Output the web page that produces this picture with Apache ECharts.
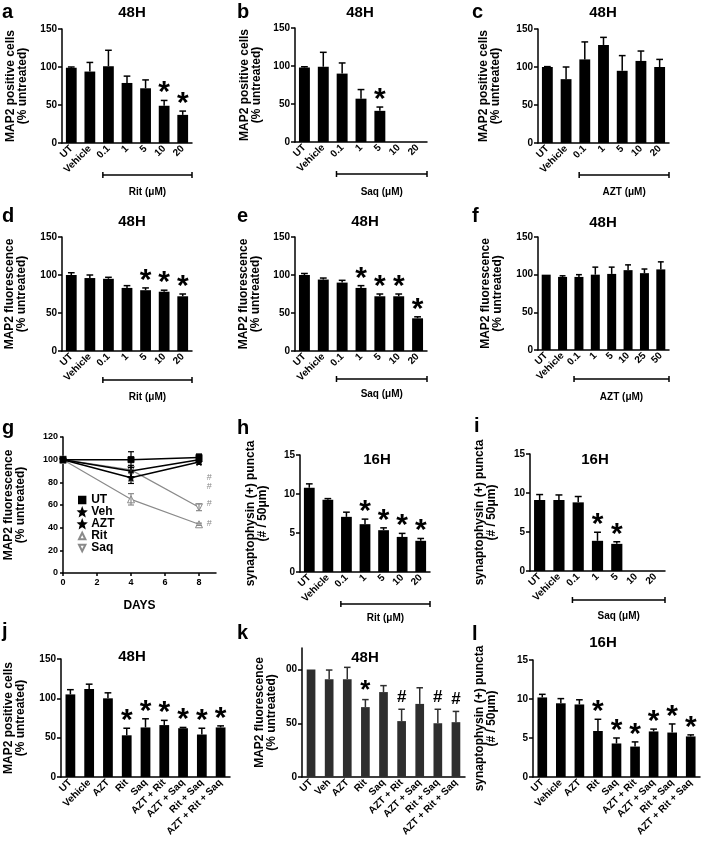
<!DOCTYPE html>
<html><head><meta charset="utf-8">
<script src="https://cdn.jsdelivr.net/npm/echarts@6/dist/echarts.min.js"></script>
<style>html,body{margin:0;padding:0;background:#fff}#chart{width:709px;height:843px}</style>
</head><body><div id="chart"></div>
<script>
// ---------- categories ----------
const catsDose = ['UT','Vehicle','0.1','1','5','10','20'];
const catsDoseF = ['UT','Vehicle','0.1','1','5','10','25','50'];
const catsCombo = ['UT','Vehicle','AZT','Rit','Saq','AZT + Rit','AZT + Saq','Rit + Saq','AZT + Rit + Saq'];
const catsComboK = ['UT','Veh','AZT','Rit','Saq','AZT + Rit','AZT + Saq','Rit + Saq','AZT + Rit + Saq'];

// ---------- values (mean, error, significance marks) ----------
const aMean = [99, 94, 101, 79, 72, 49, 37];
const aErr  = [1, 12, 21, 9, 11, 7, 5];
const aMarks = ['','','','','','*','*'];

const bMean = [98, 99, 90, 57, 41, 0, 0];
const bErr  = [1, 19, 14, 12, 5, 0, 0];
const bMarks = ['','','','','*','',''];

const cMean = [100, 84, 110, 129, 95, 108, 100];
const cErr  = [0.5, 16, 23, 10, 20, 13, 10];
const cMarks = ['','','','','','',''];

const dMean = [100, 96, 95, 83, 80, 78, 72];
const dErr  = [3, 4, 2, 3, 3, 2, 3];
const dMarks = ['','','','','*','*','*'];

const eMean = [100, 94, 90, 83, 72, 72, 43];
const eErr  = [2, 2, 3, 3, 3, 3, 2];
const eMarks = ['','','','*','*','*','*'];

const fMean = [100, 97, 97, 100, 101, 106, 102, 107];
const fErr  = [0, 1.5, 3, 10, 9, 7, 5.5, 10];
const fMarks = ['','','','','','','',''];

const hMean = [10.8, 9.26, 7.07, 6.13, 5.36, 4.5, 4.0];
const hErr  = [0.5, 0.15, 0.6, 0.65, 0.3, 0.45, 0.3];
const hMarks = ['','','','*','*','*','*'];

const iMean = [9.1, 9.1, 8.8, 3.87, 3.48, 0, 0];
const iErr  = [0.7, 0.65, 0.75, 1.1, 0.27, 0, 0];
const iMarks = ['','','','*','*','',''];

const jMean = [105, 112, 100, 53, 63, 66, 62, 54, 63];
const jErr  = [6, 6, 7, 9, 11, 6, 1, 8, 2];
const jMarks = ['','','','*','*','*','*','*','*'];

const kMean = [100, 91, 91, 65, 79, 52, 68, 50, 51];
const kErr  = [0, 8.5, 11, 7, 6, 11, 15, 13, 10];
const kMarks = ['','','','*','','#','','#','#'];

const lMean = [10.2, 9.45, 9.3, 5.9, 4.3, 3.9, 5.84, 5.7, 5.2];
const lErr  = [0.4, 0.6, 0.6, 1.5, 0.7, 0.6, 0.3, 1.1, 0.2];
const lMarks = ['','','','*','*','*','*','*','*'];

// panel g (time course)
const gDays = [0, 4, 8];
const gUT  = [100, 100, 102]; const gUTErr  = [0, 7, 3];
const gVeh = [100, 90, 100];  const gVehErr = [0, 5, 2];
const gAZT = [100, 84, 98];   const gAZTErr = [0, 5, 2];
const gRit = [100, 65, 43];   const gRitErr = [0, 5, 1];
const gSaq = [100, 91, 58];   const gSaqErr = [0, 3, 3];
const gHashX = 8.6;
const gHashY = [84, 76, 61, 44];

// ---------- tick labels ----------
const yTicks150 = [0, 50, 100, 150];
const yTicks15 = [0, 5, 10, 15];
const yTicksK = [0, 50, 100];
const yTickLabelsK = ['0', '50', '00'];
const gYTicks = [0, 20, 40, 60, 80, 100, 120];
const gXTicks = [0, 2, 4, 6, 8];

// ---------- texts ----------
const nameCells = 'MAP2 positive cells\n(% untreated)';
const nameFluo = 'MAP2 fluorescence\n(% untreated)';
const nameSyn = 'synaptophysin (+) puncta\n(# / 50\u03bcm)';

// ---------- layout / style ----------
const FONT = '"Liberation Sans", Arial, Helvetica, sans-serif';
const panels = [
  {id:'a', cats:catsDose, mean:aMean, err:aErr, marks:aMarks, yName:nameCells, yMax:150, ticks:yTicks150,
   bracket:[2,6,'Rit (\u03bcM)'], grid:[62,29,130,114], gap:33, bw:'58%', bOff:32, bTxt:17, star:30,
   title:[132,13,'48H'], letter:[2,12,'a']},
  {id:'b', cats:catsDose, mean:bMean, err:bErr, marks:bMarks, yName:nameCells, yMax:150, ticks:yTicks150,
   bracket:[2,6,'Saq (\u03bcM)'], grid:[295,28,132,114], gap:32, bw:'58%', bOff:32, bTxt:18, star:30,
   title:[360,13,'48H'], letter:[237,12,'b']},
  {id:'c', cats:catsDose, mean:cMean, err:cErr, marks:cMarks, yName:nameCells, yMax:150, ticks:yTicks150,
   bracket:[2,6,'AZT (\u03bcM)'], grid:[538,29,131,114], gap:36, bw:'58%', bOff:32, bTxt:17, star:30,
   title:[603,13,'48H'], letter:[472,12,'c']},
  {id:'d', cats:catsDose, mean:dMean, err:dErr, marks:dMarks, yName:nameFluo, yMax:150, ticks:yTicks150,
   bracket:[2,6,'Rit (\u03bcM)'], grid:[62,237,130,114], gap:34, bw:'58%', bOff:29, bTxt:17, star:30,
   title:[132,222,'48H'], letter:[2,216,'d']},
  {id:'e', cats:catsDose, mean:eMean, err:eErr, marks:eMarks, yName:nameFluo, yMax:150, ticks:yTicks150,
   bracket:[2,6,'Saq (\u03bcM)'], grid:[295,237,132,114], gap:33, bw:'58%', bOff:28, bTxt:15, star:30,
   title:[365,222,'48H'], letter:[237,216,'e']},
  {id:'f', cats:catsDoseF, mean:fMean, err:fErr, marks:fMarks, yName:nameFluo, yMax:150, ticks:yTicks150,
   bracket:[2,7,'AZT (\u03bcM)'], grid:[538,237,131,113], gap:34, bw:'55%', bOff:29, bTxt:18, star:30,
   title:[603,223,'48H'], letter:[472,216,'f']},
  {id:'g', line:true, grid:[63,437,153,136], gap:36, letter:[2,428,'g']},
  {id:'h', cats:catsDose, mean:hMean, err:hErr, marks:hMarks, yName:nameSyn, yMax:15, ticks:yTicks15,
   bracket:[2,6,'Rit (\u03bcM)'], grid:[300,455,130,117], gap:31, bw:'58%', bOff:32, bTxt:14, star:30,
   title:[377,460,'16H'], letter:[237,428,'h']},
  {id:'i', cats:catsDose, mean:iMean, err:iErr, marks:iMarks, yName:nameSyn, yMax:15, ticks:yTicks15,
   bracket:[2,6,'Saq (\u03bcM)'], grid:[530,454,135,117], gap:32, bw:'58%', bOff:29, bTxt:16, star:30,
   title:[595,460,'16H'], letter:[474,426,'i']},
  {id:'j', cats:catsCombo, mean:jMean, err:jErr, marks:jMarks, yName:nameCells, yMax:150, ticks:yTicks150,
   grid:[61,659,169,118], gap:34, bw:'52%', star:30,
   title:[132,657,'48H'], letter:[2,631,'j']},
  {id:'k', cats:catsComboK, mean:kMean, err:kErr, marks:kMarks, yName:nameFluo, yMax:120, ticks:yTicksK, tickLabels:yTickLabelsK,
   grid:[302,648,163,129], gap:24, bw:'48%', star:26, color:'#2e2e2e',
   title:[365,658,'48H'], letter:[237,633,'k']},
  {id:'l', cats:catsCombo, mean:lMean, err:lErr, marks:lMarks, yName:nameSyn, yMax:15, ticks:yTicks15,
   grid:[533,660,167,117], gap:35, bw:'52%', star:30,
   title:[603,643,'16H'], letter:[472,634,'l']}
];

const grids = [], xAxes = [], yAxes = [], series = [], graphics = [];
const axisLineStyle = {color:'#000', width:1.5};
const labelStyle = {fontSize:10, fontWeight:'bold', color:'#000', fontFamily:FONT};
const nameStyle = {fontSize:12, fontWeight:'bold', color:'#000', fontFamily:FONT, lineHeight:12};

function makeErr(color, capFrac){
  return function(params, api){
    const m = api.value(1), e = api.value(2);
    if (!(m > 0) || !(e > 0)) return null;
    const x = api.value(0);
    const p0 = api.coord([x, m]), p1 = api.coord([x, m + e]);
    const half = api.size([1, 0])[0] * capFrac / 2;
    const st = {stroke: color, lineWidth: 1.5};
    return {type:'group', children:[
      {type:'line', shape:{x1:p0[0], y1:p0[1], x2:p1[0], y2:p1[1]}, style:st},
      {type:'line', shape:{x1:p1[0]-half, y1:p1[1], x2:p1[0]+half, y2:p1[1]}, style:st}
    ]};
  };
}
function makeMarks(marks, fsStar, color){
  return function(params, api){
    const idx = api.value(0), top = api.value(1);
    const mark = marks[idx];
    const p = api.coord([idx, top]);
    const star = mark === '*';
    const fs = star ? fsStar : 17;
    const y = star ? p[1] - 14 + 0.22 * fs : p[1] - 12;
    return {type:'text', x:p[0], y:y, style:{text:mark, fontSize:fs, fontWeight:'bold', fontFamily:FONT, fill:color, align:'center', verticalAlign:'middle'}};
  };
}
function makeBracket(label, off, txtOff){
  return function(params, api){
    const a = api.value(0), b = api.value(2);
    const bw = api.size([1, 0])[0];
    const p0 = api.coord([a, 0]), p1 = api.coord([b, 0]);
    const x0 = p0[0] - 0.3 * bw, x1 = p1[0] + 0.5 * bw, y = p0[1] + off;
    const st = {stroke:'#000', lineWidth:1.5};
    return {type:'group', children:[
      {type:'line', shape:{x1:x0, y1:y, x2:x1, y2:y}, style:st},
      {type:'line', shape:{x1:x0, y1:y-3, x2:x0, y2:y+3}, style:st},
      {type:'line', shape:{x1:x1, y1:y-3, x2:x1, y2:y+3}, style:st},
      {type:'text', x:(x0+x1)/2, y:y+txtOff, style:{text:label, fontSize:10, fontWeight:'bold', fontFamily:FONT, fill:'#000', align:'center', verticalAlign:'middle'}}
    ]};
  };
}

panels.forEach((P, i) => {
  grids.push({left:P.grid[0], top:P.grid[1], width:P.grid[2], height:P.grid[3], containLabel:false, outerBoundsMode:'none'});
  graphics.push({type:'text', x:P.letter[0], y:P.letter[1], style:{text:P.letter[2], fontSize:20, fontWeight:'bold', fontFamily:FONT, fill:'#000', align:'left', verticalAlign:'middle'}});
  if (P.line) return;
  graphics.push({type:'text', x:P.title[0], y:P.title[1], style:{text:P.title[2], fontSize:15, fontWeight:'bold', fontFamily:FONT, fill:'#000', align:'center', verticalAlign:'middle'}});
  const color = P.color || '#000';
  xAxes.push({gridIndex:i, type:'category', data:P.cats, axisLine:{lineStyle:axisLineStyle}, axisTick:{show:false},
    axisLabel:Object.assign({rotate:45, margin:4, interval:0}, labelStyle)});
  const step = P.ticks[1] - P.ticks[0];
  yAxes.push({gridIndex:i, type:'value', min:0, max:P.yMax, interval:step,
    axisLine:{show:true, lineStyle:axisLineStyle}, axisTick:{show:true, length:4, lineStyle:axisLineStyle, customValues:P.ticks},
    splitLine:{show:false},
    axisLabel:Object.assign({margin:5, customValues:P.ticks, formatter:(v) => {
      const k = P.ticks.indexOf(v); if (k < 0) return '';
      return P.tickLabels ? P.tickLabels[k] : String(v);
    }}, labelStyle),
    name:P.yName, nameLocation:'middle', nameRotate:90, nameGap:P.gap, nameTextStyle:nameStyle});
  series.push({type:'bar', xAxisIndex:i, yAxisIndex:i, data:P.mean, barWidth:P.bw, itemStyle:{color:color}, silent:true});
  series.push({type:'custom', xAxisIndex:i, yAxisIndex:i, clip:false, silent:true, z:3,
    data:P.mean.map((m, j) => [j, m, P.err[j]]), encode:{x:0, y:1}, renderItem:makeErr(color, 0.36)});
  const markData = [];
  P.marks.forEach((mk, j) => { if (mk) markData.push([j, P.mean[j] + P.err[j]]); });
  if (markData.length) series.push({type:'custom', xAxisIndex:i, yAxisIndex:i, clip:false, silent:true, z:4,
    data:markData, encode:{x:0, y:1}, renderItem:makeMarks(P.marks, P.star, '#000')});
  if (P.bracket) series.push({type:'custom', xAxisIndex:i, yAxisIndex:i, clip:false, silent:true, z:4,
    data:[[P.bracket[0], 0, P.bracket[1]]], encode:{x:0, y:1}, renderItem:makeBracket(P.bracket[2], P.bOff, P.bTxt)});
});

// ---------- panel g ----------
const gi = 6;
const G = panels[gi];
xAxes.splice(gi, 0, {gridIndex:gi, type:'value', min:0, max:9, interval:2,
  axisLine:{show:true, lineStyle:axisLineStyle}, axisTick:{show:true, length:3, lineStyle:axisLineStyle, customValues:gXTicks},
  splitLine:{show:false},
  axisLabel:Object.assign({margin:5, customValues:gXTicks, formatter:(v) => gXTicks.indexOf(v) >= 0 ? String(v) : ''}, labelStyle, {fontSize:9}),
  name:'DAYS', nameLocation:'middle', nameGap:27, nameTextStyle:{fontSize:12, fontWeight:'bold', color:'#000', fontFamily:FONT}});
yAxes.splice(gi, 0, {gridIndex:gi, type:'value', min:0, max:120, interval:20,
  axisLine:{show:true, lineStyle:axisLineStyle}, axisTick:{show:true, length:3, lineStyle:axisLineStyle},
  splitLine:{show:false},
  axisLabel:Object.assign({margin:5, formatter:(v) => gYTicks.indexOf(v) >= 0 ? String(v) : ''}, labelStyle, {fontSize:9}),
  name:nameFluo, nameLocation:'middle', nameRotate:90, nameGap:G.gap, nameTextStyle:nameStyle});

const STAR = 'path://M0,-10 L2.6,-3.6 9.5,-3.1 4.2,1.4 5.9,8.1 0,4.4 -5.9,8.1 -4.2,1.4 -9.5,-3.1 -2.6,-3.6 Z';
const INV_TRI = 'path://M0,0 L10,0 L5,9 Z';
const gSeriesDef = [
  {name:'Rit', v:gRit, e:gRitErr, symbol:'triangle', size:7, fill:'#fff', col:'#8a8a8a', lw:1.2},
  {name:'Saq', v:gSaq, e:gSaqErr, symbol:INV_TRI, size:7, fill:'#fff', col:'#8a8a8a', lw:1.2},
  {name:'AZT', v:gAZT, e:gAZTErr, symbol:STAR, size:7, fill:'#000', col:'#000', lw:1.5},
  {name:'Veh', v:gVeh, e:gVehErr, symbol:STAR, size:6, fill:'#000', col:'#000', lw:1.5},
  {name:'UT',  v:gUT,  e:gUTErr,  symbol:'rect', size:6, fill:'#000', col:'#000', lw:1.5}
];
const gErrData = [];
gSeriesDef.forEach((s, si) => {
  series.push({type:'line', name:s.name, xAxisIndex:gi, yAxisIndex:gi, silent:true,
    data:gDays.map((d, k) => [d, s.v[k]]), symbol:s.symbol, symbolSize:s.size, showAllSymbol:true,
    itemStyle:{color:s.fill, borderColor:s.col, borderWidth:1}, lineStyle:{color:s.col, width:s.lw}, z:2+si});
  gDays.forEach((d, k) => { if (s.e[k] > 0) gErrData.push([d, s.v[k], s.e[k], si]); });
});
series.push({type:'custom', xAxisIndex:gi, yAxisIndex:gi, clip:false, silent:true, z:10,
  data:gErrData, encode:{x:0, y:1}, renderItem:function(params, api){
    const x = api.value(0), m = api.value(1), e = api.value(2), si = api.value(3);
    const c = gSeriesDef[si].col;
    const pl = api.coord([x, m - e]), ph = api.coord([x, m + e]);
    const st = {stroke:c, lineWidth:1.2};
    return {type:'group', children:[
      {type:'line', shape:{x1:pl[0], y1:pl[1], x2:ph[0], y2:ph[1]}, style:st},
      {type:'line', shape:{x1:pl[0]-3, y1:pl[1], x2:pl[0]+3, y2:pl[1]}, style:st},
      {type:'line', shape:{x1:ph[0]-3, y1:ph[1], x2:ph[0]+3, y2:ph[1]}, style:st}
    ]};
  }});
series.push({type:'custom', xAxisIndex:gi, yAxisIndex:gi, clip:false, silent:true, z:10,
  data:gHashY.map((y) => [gHashX, y]), encode:{x:0, y:1}, renderItem:function(params, api){
    const p = api.coord([api.value(0), api.value(1)]);
    return {type:'text', x:p[0], y:p[1], style:{text:'#', fontSize:9, fontFamily:FONT, fill:'#8a8a8a', align:'center', verticalAlign:'middle'}};
  }});

const chart = echarts.init(document.getElementById('chart'), null, {renderer:'canvas', width:709, height:843});
chart.setOption({
  backgroundColor:'#fff',
  animation:false,
  textStyle:{fontFamily:FONT},
  grid:grids, xAxis:xAxes, yAxis:yAxes, series:series,
  legend:{show:true, data:['UT','Veh','AZT','Rit','Saq'], orient:'vertical', left:73, top:489,
    itemWidth:8, itemHeight:8, itemGap:0, selectedMode:false,
    lineStyle:{opacity:0, width:0},
    textStyle:{fontSize:12, fontWeight:'bold', color:'#000', fontFamily:FONT, lineHeight:12}},
  graphic:graphics
});
</script></body></html>
